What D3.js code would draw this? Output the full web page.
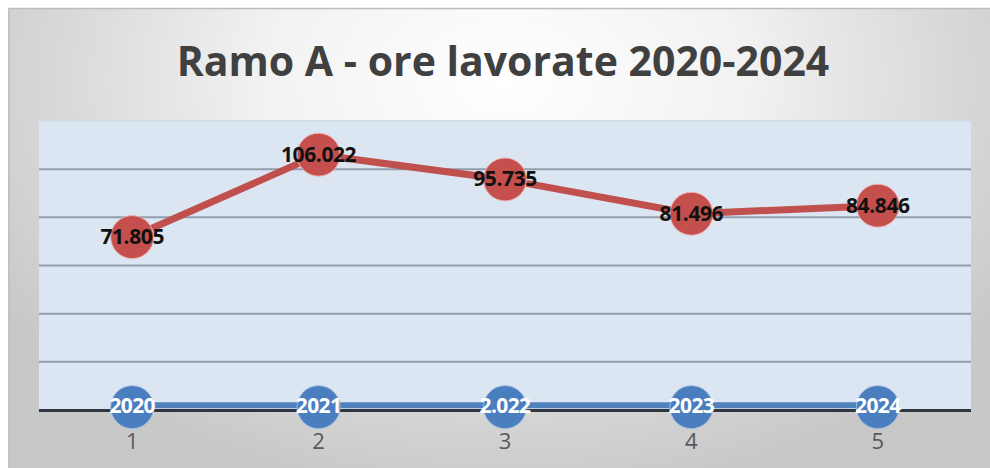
<!DOCTYPE html>
<html><head><meta charset="utf-8">
<script src="https://cdn.jsdelivr.net/npm/d3@7"></script>
<style>html,body{margin:0;padding:0;background:#fff;overflow:hidden}</style>
</head><body><svg id="c" width="990" height="468"></svg>
<script>
const categories = ["1","2","3","4","5"];
const hoursValues = [71805, 106022, 95735, 81496, 84846];
const hoursLabels = ["71.805","106.022","95.735","81.496","84.846"];
const yearValues = [2020, 2021, 2022, 2023, 2024];
const yearLabels = ["2020","2021","2.022","2023","2024"];
const yTicks = [0, 20000, 40000, 60000, 80000, 100000, 120000];
const title = "Ramo A - ore lavorate 2020-2024";

const svg = d3.select("#c");
const defs = svg.append("defs");
const g = defs.append("radialGradient").attr("id","bg")
  .attr("gradientUnits","userSpaceOnUse").attr("cx",505).attr("cy",80).attr("r",600)
  .attr("gradientTransform","translate(505,80) scale(1,0.7) translate(-505,-80)");
g.append("stop").attr("offset",0).attr("stop-color","#ffffff");
g.append("stop").attr("offset",0.4).attr("stop-color","#f2f2f2");
g.append("stop").attr("offset",0.75).attr("stop-color","#d8d8d8");
g.append("stop").attr("offset",1).attr("stop-color","#c8c8c8");

svg.append("rect").attr("x",8).attr("y",8).attr("width",990).attr("height",470).attr("fill","url(#bg)");
svg.append("line").attr("x1",8).attr("x2",990).attr("y1",8.5).attr("y2",8.5).attr("stroke","#bcbcbc").attr("stroke-width",1.5);
svg.append("line").attr("x1",9).attr("x2",9).attr("y1",8).attr("y2",468).attr("stroke","#c2c2c2").attr("stroke-width",2);

const L = 39, R = 971, T = 121, B = 410;
const x = d3.scaleBand().domain(categories).range([L,R]);
const y = d3.scaleLinear().domain([0,120000]).range([B,T]);

svg.append("rect").attr("x",L).attr("y",T).attr("width",R-L).attr("height",B-T).attr("fill","#dce6f2");

svg.append("g").selectAll("line").data(yTicks.slice(1)).join("line")
  .attr("x1",L).attr("x2",R).attr("y1",d=>y(d)).attr("y2",d=>y(d))
  .attr("stroke",(d,i)=> i===yTicks.length-2 ? "#d3dce6" : "#929eae").attr("stroke-width",2);

svg.append("text").attr("x",503).attr("y",76).attr("text-anchor","middle")
  .attr("font-family","'Open Sans', sans-serif").attr("font-weight",700).attr("font-size",41)
  .attr("fill","#404040").text(title);

const cx = d => x(d) + x.bandwidth()/2;

// axis line
svg.append("line").attr("x1",L).attr("x2",R).attr("y1",B+0.5).attr("y2",B+0.5).attr("stroke","#2f3640").attr("stroke-width",3);

// blue series
const blueLine = d3.line().x((d,i)=>cx(categories[i])).y(d=>y(d));
svg.append("path").datum(yearValues).attr("d",blueLine).attr("fill","none").attr("stroke","#4f81bd").attr("stroke-width",6);
svg.append("g").selectAll("circle").data(yearValues).join("circle")
  .attr("cx",(d,i)=>cx(categories[i])).attr("cy",d=>y(d)+2).attr("r",21.5)
  .attr("fill","#4a7ebf").attr("stroke","#9fbde0").attr("stroke-width",1);
svg.append("g").selectAll("text").data(yearValues).join("text")
  .attr("x",(d,i)=>cx(categories[i])).attr("y",d=>y(d)+8).attr("text-anchor","middle")
  .attr("font-family","'Open Sans', sans-serif").attr("font-weight",700).attr("font-size",21)
  .attr("fill","#ffffff").attr("letter-spacing",-0.6).text((d,i)=>yearLabels[i]);

// red series
const redLine = d3.line().x((d,i)=>cx(categories[i])).y(d=>y(d));
svg.append("path").datum(hoursValues).attr("d",redLine).attr("fill","none").attr("stroke","#c0504d").attr("stroke-width",7);
svg.append("g").selectAll("circle").data(hoursValues).join("circle")
  .attr("cx",(d,i)=>cx(categories[i])).attr("cy",d=>y(d)).attr("r",21.5)
  .attr("fill","#c44f4c").attr("stroke","#eab3b1").attr("stroke-width",1);
svg.append("g").selectAll("text").data(hoursValues).join("text")
  .attr("x",(d,i)=>cx(categories[i])).attr("y",d=>y(d)+7).attr("text-anchor","middle")
  .attr("font-family","'Open Sans', sans-serif").attr("font-weight",700).attr("font-size",21)
  .attr("fill","#111111").attr("letter-spacing",-0.4).text((d,i)=>hoursLabels[i]);

// x tick labels
svg.append("g").selectAll("text").data(categories).join("text")
  .attr("x",d=>cx(d)).attr("y",449).attr("text-anchor","middle")
  .attr("font-family","'Open Sans', sans-serif").attr("font-size",22)
  .attr("fill","#595959").text(d=>d);
</script></body></html>
